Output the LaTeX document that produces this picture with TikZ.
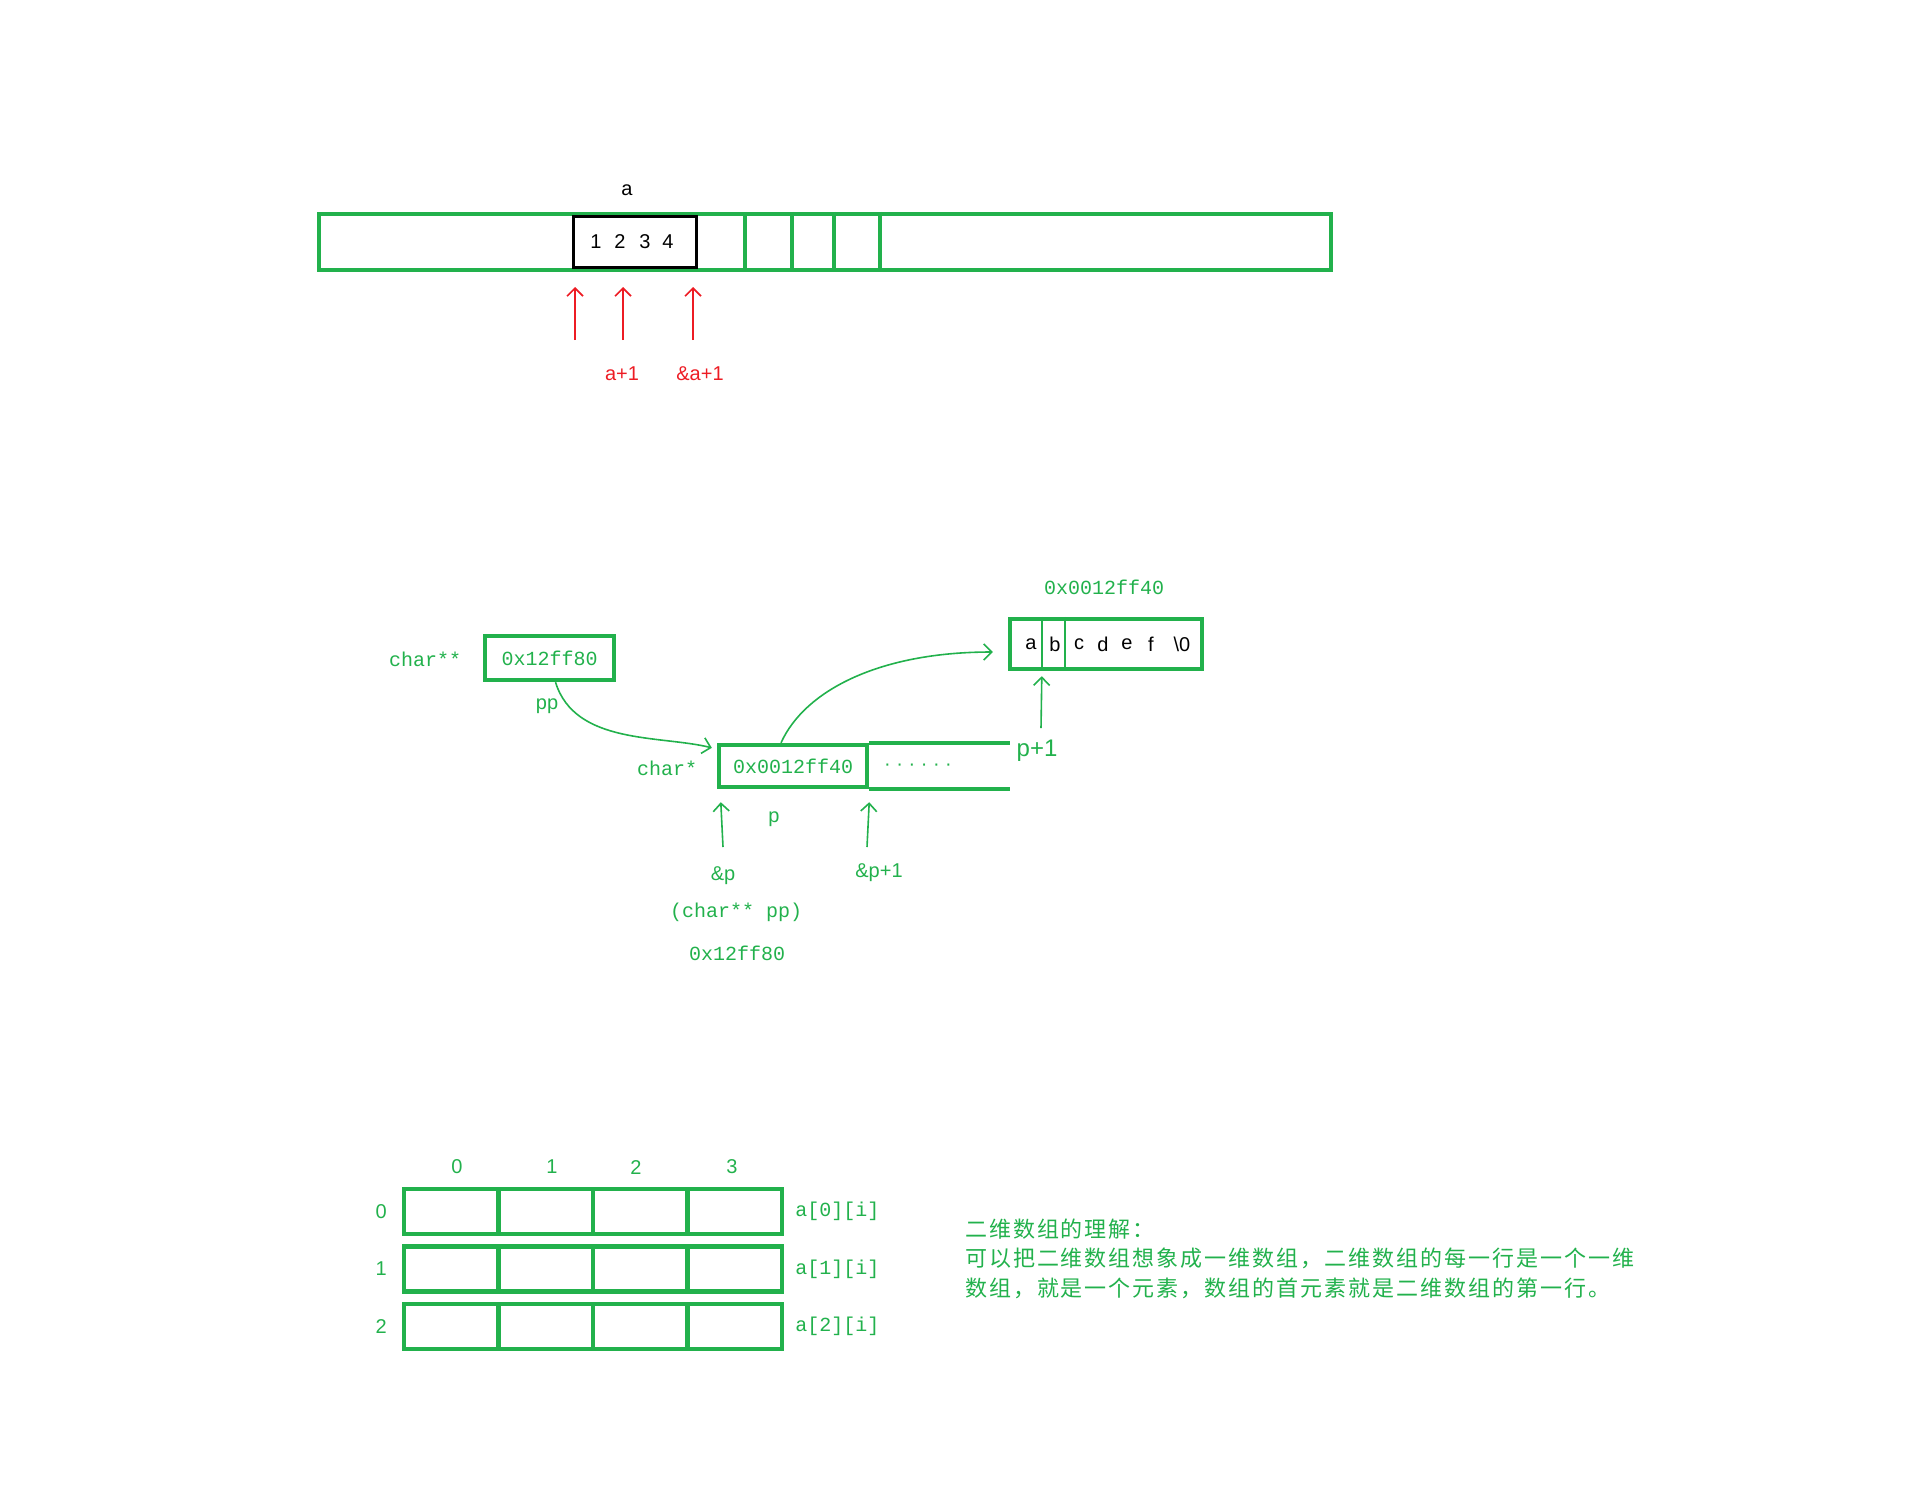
\documentclass[tikz,border=0pt]{standalone}
\usepackage{fontspec}
\setmainfont{Liberation Sans}
\newfontfamily\codefont{Liberation Mono}
\newfontfamily\cjk[LetterSpace=9]{Noto Sans CJK SC}
\usetikzlibrary{arrows.meta}
\usetikzlibrary{positioning}
\definecolor{pgreen}{HTML}{22B14C}
\definecolor{pred}{HTML}{ED1C24}

\begin{document}
\begin{tikzpicture}[x=0.5pt,y=-0.5pt,>={Straight Barb[length=4pt,width=8pt]},
    gbox/.style={draw=pgreen,line width=2.2pt,inner sep=0pt},
    gline/.style={draw=pgreen,line width=2.2pt},
    thinline/.style={draw=pgreen,line width=0.7pt},
    garrow/.style={draw=pgreen,line width=0.8pt,->},
    rarrow/.style={draw=pred,line width=0.8pt,->},
    code/.style={text=pgreen,font=\codefont},
    glabel/.style={text=pgreen}]
    \useasboundingbox (0,0) rectangle (1914,1500);

    % one-dimensional array
    \node[gbox,minimum width=506pt,minimum height=28pt] (mem) at (825,242) {};
    \node[draw,line width=1.5pt,inner sep=0pt,minimum width=61.5pt,minimum height=25.5pt] (arr) at (634.5,241.5) {};
    \foreach \x/\d in {596/1,620/2,645/3,668/4}
        \node at (\x,242) {\d};
    \node at (627,190) {a};
    \foreach \x in {745,792,834,880}
        \draw[gline] (\x,0 |- mem.north) -- (\x,0 |- mem.south);

    \foreach \x/\n in {575/0,623/1,693/2} {
        \coordinate (r\n) at (\x,340);
        \coordinate (rt\n) at (\x,287);
        \draw[rarrow] (r\n) -- (rt\n);
    }
    \node[text=pred] at (622,374) {a+1};
    \node[text=pred] at (700,374) {\&a+1};

    % pointer to pointer
    \node[code] at (1104,587) {0x0012ff40};
    \node[gbox,minimum width=96pt,minimum height=25pt] (str) at (1106,644) {};
    \foreach \x/\c in {1031/a,1055/b,1079/c,1103/d,1127/e,1151/f,1182/\textbackslash 0}
        \node at (\x,644) {\c};
    \draw[thinline] ([xshift=17pt]str.north west) -- ([xshift=17pt]str.south west);
    \draw[thinline] ([xshift=28.5pt]str.north west) -- ([xshift=28.5pt]str.south west);

    \node[code] at (425,659) {char**};
    \node[gbox,minimum width=64.5pt,minimum height=22pt,code] (pp) at (549.5,658) {0x12ff80};
    \node[glabel] at (547,706) {pp};

    \node[code] at (667,768) {char*};
    \node[gbox,minimum width=74pt,minimum height=21pt,code] (p) at (793,766) {0x0012ff40};
    \draw[gline] (p.north east) -- ++(141,0) coordinate (pend1);
    \draw[gline] (p.south east) -- ++(141,0) coordinate (pend2);
    \node[glabel] at (918,767) {· · · · · ·};

    \draw[garrow] ([xshift=3pt]pp.south) .. controls (575,745) and (660,735) .. ([xshift=-2.5pt,yshift=-2.5pt]p.north west);
    \draw[garrow] ([xshift=-6pt]p.north) .. controls (805,690) and (880,652) .. ([xshift=-7.5pt,yshift=-4pt]str.west);

    \coordinate (p1) at (1041,728);
    \draw[garrow] (p1) -- ([xshift=17pt,yshift=-2.5pt]str.south west);
    \node[glabel,font=\large] at (1037,751) {p+1};

    \coordinate (amp) at (723,847);
    \coordinate (amp1) at (867,847);
    \draw[garrow] (amp) -- ([xshift=2pt,yshift=-6.5pt]p.south west);
    \draw[garrow] (amp1) -- ([yshift=-6.5pt]p.south east);
    \node[glabel] at (774,819) {p};
    \node[glabel] at (723,876) {\&p};
    \node[code] at (736,912) {(char** pp)};
    \node[code] at (737,953) {0x12ff80};
    \node[glabel] at (879,873) {\&p+1};

    % two-dimensional array
    \foreach \r in {0,1,2} {
        \foreach \c in {0,1,2,3}
            \node[gbox,minimum width=47.25pt,minimum height=22.5pt] (c\r\c) at (451.25+94.5*\c,1211.5+57.5*\r) {};
        \node[glabel,left=4pt of c\r0] {\r};
        \node[code,right=2pt of c\r3] {a[\r][i]};
    }
    \foreach \c/\x in {0/457,1/552,2/636,3/732}
        \node[glabel] at (\x,1167) {\c};

    \node[text=pgreen,font=\cjk\fontsize{11}{14}\selectfont,anchor=west] (note1) at (958,1229) {二维数组的理解：};
    \node[text=pgreen,font=\cjk\fontsize{11}{14}\selectfont,anchor=west] (note2) at (958,1258) {可以把二维数组想象成一维数组，二维数组的每一行是一个一维};
    \node[text=pgreen,font=\cjk\fontsize{11}{14}\selectfont,anchor=west] (note3) at (958,1288) {数组，就是一个元素，数组的首元素就是二维数组的第一行。};
\end{tikzpicture}
\end{document}
